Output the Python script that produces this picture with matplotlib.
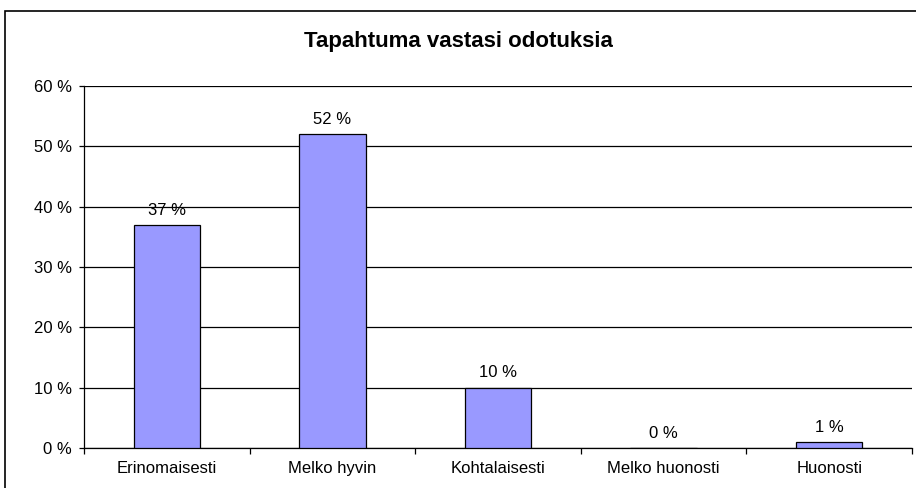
import numpy as np
import matplotlib.pyplot as plt
from matplotlib.patches import Rectangle

categories = ['Erinomaisesti', 'Melko hyvin', 'Kohtalaisesti', 'Melko huonosti', 'Huonosti']
values = [37, 52, 10, 0, 1]
yticks = [0, 10, 20, 30, 40, 50, 60]

plt.rcParams['font.family'] = ['Liberation Sans', 'DejaVu Sans']

fig = plt.figure(figsize=(9.16, 4.88), dpi=100)
ax = fig.add_axes([84 / 916, 40 / 488, 828 / 916, 362 / 488])

x = np.arange(len(categories))
ax.bar(x, values, width=0.4, color='#9999FF', edgecolor='black', linewidth=0.9, zorder=3)
for xi, v in zip(x, values):
    ax.text(xi, v + 1.2, f'{v} %', ha='center', va='bottom', fontsize=12)

ax.set_xlim(-0.5, len(categories) - 0.5)
ax.set_ylim(0, 60)
ax.set_yticks(yticks)
ax.set_yticklabels([f'{t} %' for t in yticks], fontsize=12)
ax.yaxis.grid(True, color='black', linewidth=0.9, zorder=0)
ax.tick_params(axis='y', length=3.6, width=0.9, pad=5)

ax.set_xticks(x)
ax.set_xticklabels(categories, fontsize=12, va='baseline')
ax.tick_params(axis='x', length=0, pad=18)
ax.set_xticks(np.arange(len(categories) + 1) - 0.5, minor=True)
ax.tick_params(axis='x', which='minor', length=4, width=0.9)

for s in ['top', 'right']:
    ax.spines[s].set_visible(False)
for s in ['left', 'bottom']:
    ax.spines[s].set_linewidth(0.9)

fig.text(0.5, 1 - 41 / 488, 'Tapahtuma vastasi odotuksia', ha='center', va='center',
         fontsize=16, fontweight='bold')

fig.patches.append(Rectangle((5 / 916, -0.05), 1.0, 1 - 10.5 / 488 + 0.05,
                             transform=fig.transFigure, fill=False,
                             edgecolor='black', linewidth=1.2))

fig.savefig('out.png', dpi=100)
